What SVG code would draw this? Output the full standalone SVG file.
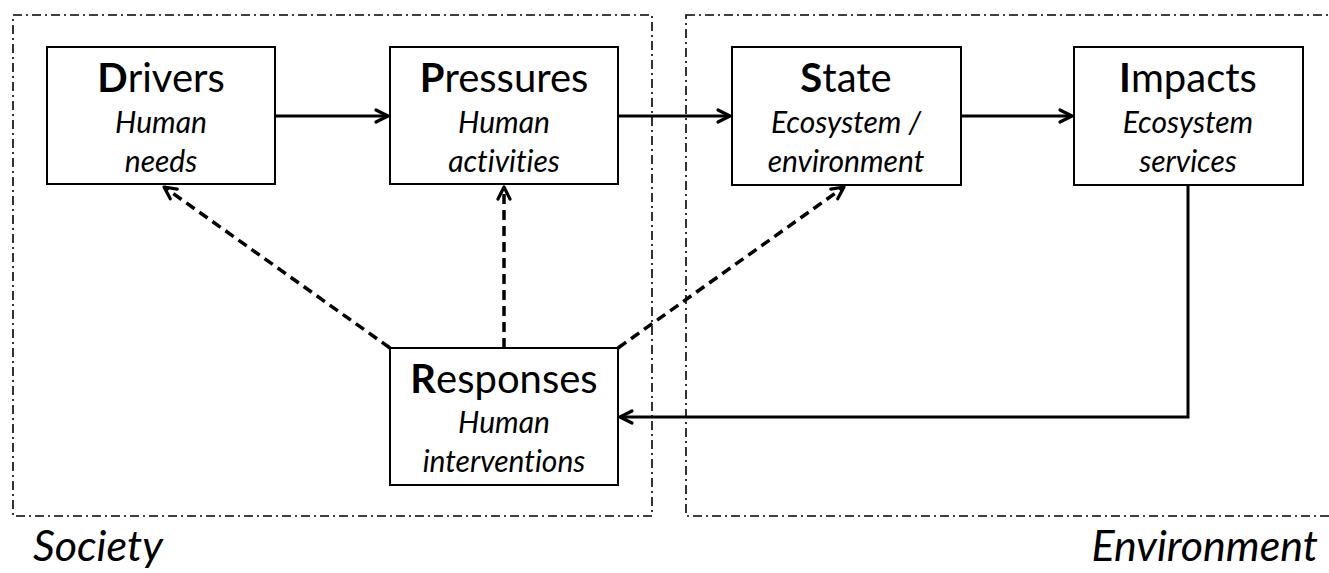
<svg xmlns="http://www.w3.org/2000/svg" width="1329" height="573" viewBox="0 0 1329 573">
<style>
.region{fill:none;stroke:#000;stroke-width:1.6;stroke-dasharray:9 4 2 4}
.box{fill:#fff;stroke:#000;stroke-width:2}
.t{font-family:Lato,"Liberation Sans",sans-serif;font-size:40px;fill:#000;text-anchor:middle}
.t tspan.b{font-weight:bold}
.s{font-family:Lato,"Liberation Sans",sans-serif;font-style:italic;font-size:30px;fill:#000;text-anchor:middle;font-variant-ligatures:none}
.lab{font-family:Lato,"Liberation Sans",sans-serif;font-style:italic;font-size:43px;fill:#000}
.solid{fill:none;stroke:#000;stroke-width:3}
.dash{fill:none;stroke:#000;stroke-width:3.5;stroke-dasharray:10 6}
</style>
<defs>
<marker id="ah" viewBox="0 0 14 14" refX="13" refY="7" markerWidth="14" markerHeight="14" markerUnits="userSpaceOnUse" orient="auto" overflow="visible">
<path d="M1,1 L13,7 L1,13" fill="none" stroke="#000" stroke-width="3.2" stroke-linecap="round" stroke-linejoin="round"/>
</marker>
</defs>
<g id="regions">
<rect class="region" x="13" y="15" width="639" height="501"/>
<rect class="region" x="686" y="15" width="660" height="501"/>
<text class="lab" x="33" y="561">Society</text>
<text class="lab" x="1318" y="561" text-anchor="end">Environment</text>
</g>
<g id="connectors">
<line class="solid" x1="275" y1="116" x2="388" y2="116" marker-end="url(#ah)"/>
<line class="solid" x1="618" y1="116" x2="730" y2="116" marker-end="url(#ah)"/>
<line class="solid" x1="961" y1="116" x2="1072" y2="116" marker-end="url(#ah)"/>
<polyline class="solid" points="1188,185 1188,417 620,417" marker-end="url(#ah)"/>
<line class="dash" x1="390" y1="348" x2="164" y2="187" marker-end="url(#ah)"/>
<line class="dash" x1="504" y1="348" x2="504" y2="187" marker-end="url(#ah)"/>
<line class="dash" x1="618" y1="348" x2="844" y2="187" marker-end="url(#ah)"/>
</g>
<g id="drivers">
<rect class="box" x="47" y="47" width="228" height="137"/>
<text class="t" x="161" y="92"><tspan class="b">D</tspan>rivers</text>
<text class="s" x="161" y="133">Human</text>
<text class="s" x="161" y="172">needs</text>
</g>
<g id="pressures">
<rect class="box" x="390" y="47" width="228" height="137"/>
<text class="t" x="504" y="92"><tspan class="b">P</tspan>ressures</text>
<text class="s" x="504" y="133">Human</text>
<text class="s" x="504" y="172">activities</text>
</g>
<g id="state">
<rect class="box" x="732" y="47" width="229" height="138"/>
<text class="t" x="846" y="92"><tspan class="b">S</tspan>tate</text>
<text class="s" x="846" y="133">Ecosystem /</text>
<text class="s" x="846" y="172">environment</text>
</g>
<g id="impacts">
<rect class="box" x="1074" y="47" width="229" height="138"/>
<text class="t" x="1188" y="92"><tspan class="b">I</tspan>mpacts</text>
<text class="s" x="1188" y="133">Ecosystem</text>
<text class="s" x="1188" y="172">services</text>
</g>
<g id="responses">
<rect class="box" x="390" y="348" width="228" height="137"/>
<text class="t" x="504" y="393"><tspan class="b">R</tspan>esponses</text>
<text class="s" x="504" y="433">Human</text>
<text class="s" x="504" y="472">interventions</text>
</g>
</svg>
